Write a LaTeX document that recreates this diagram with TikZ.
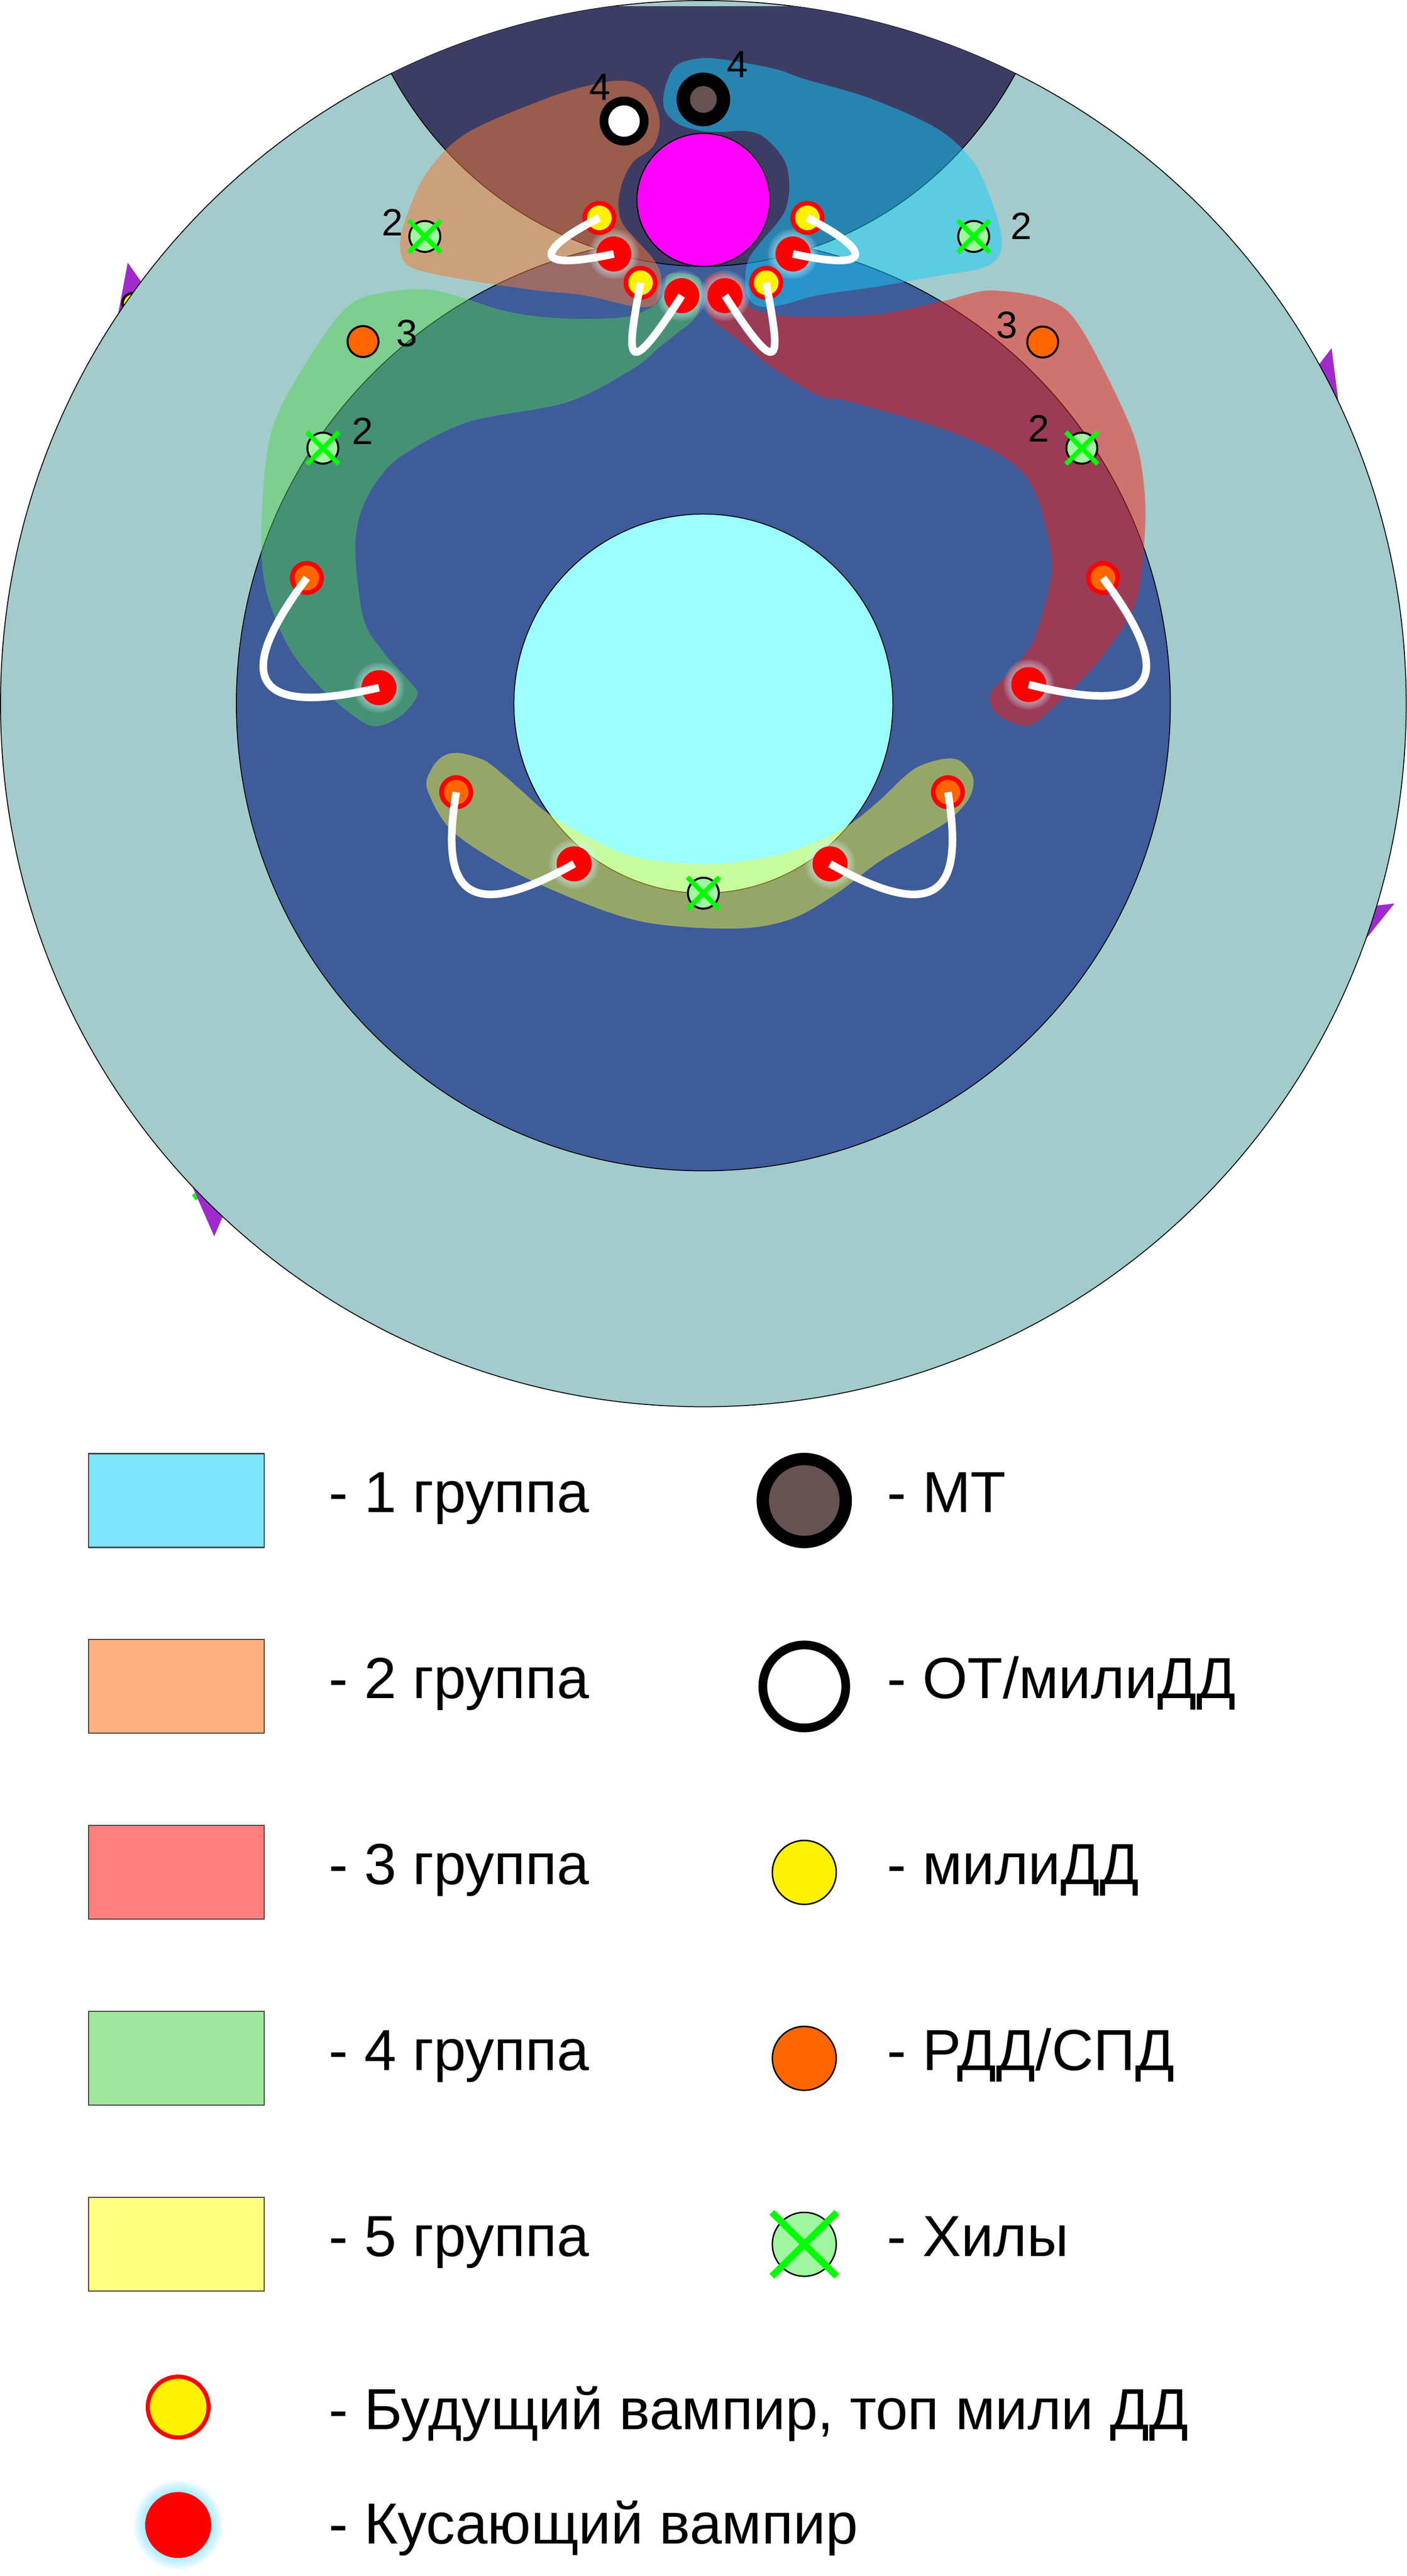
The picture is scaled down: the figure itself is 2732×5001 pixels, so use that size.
\documentclass[tikz,border=0pt]{standalone}
\usepackage{fontspec}
\setmainfont{Liberation Sans}
\definecolor{teal0}{RGB}{163,203,203}
\definecolor{blue0}{RGB}{62,92,154}
\definecolor{navy0}{RGB}{61,60,100}
\definecolor{cyan0}{RGB}{155,255,254}
\definecolor{mag0}{RGB}{255,0,255}
\definecolor{g1c}{RGB}{20,205,250}
\definecolor{g2c}{RGB}{240,122,55}
\definecolor{g3c}{RGB}{249,29,21}
\definecolor{g4c}{RGB}{80,210,75}
\definecolor{g5c}{RGB}{250,250,50}
\definecolor{leg1}{RGB}{127,229,254}
\definecolor{leg2}{RGB}{255,176,127}
\definecolor{leg3}{RGB}{255,127,127}
\definecolor{leg4}{RGB}{160,229,160}
\definecolor{leg5}{RGB}{255,255,127}
\definecolor{mtc}{RGB}{102,82,82}
\definecolor{orng}{RGB}{255,102,0}
\definecolor{healc}{RGB}{160,245,160}
\definecolor{xgreen}{RGB}{0,255,0}
\definecolor{purp}{RGB}{160,42,204}
\definecolor{glowc}{RGB}{220,245,255}
\definecolor{glowl}{RGB}{110,220,255}
\tikzset{
  dot/.style={circle, inner sep=0pt, outer sep=0pt},
  futv/.style={dot, minimum size=0.57cm, fill=yellow, draw=red, line width=2.56pt},
  futo/.style={futv, fill=orng},
  biter/.style={dot, minimum size=0.68cm, fill=red},
  healer/.style={dot, minimum size=0.60cm, fill=healc, draw=black, line width=1.1pt},
  rdd/.style={dot, minimum size=0.60cm, fill=orng, draw=black, line width=1.1pt},
  mtnode/.style={dot, minimum size=0.78cm, fill=mtc, draw=black, line width=7.4pt},
  otnode/.style={dot, minimum size=0.78cm, fill=white, draw=black, line width=4.84pt},
  xline/.style={draw=xgreen, line width=2.56pt},
  bite/.style={draw=white, line width=4.2pt},
  lbl/.style={inner sep=0pt, font=\fontsize{21pt}{24pt}\selectfont},
  legtxt/.style={inner sep=0pt, anchor=base west, font=\fontsize{32pt}{36pt}\selectfont},
  legbox/.style={draw=black!75, line width=0.6pt},
  thinline/.style={draw=black, line width=0.5pt}
}
\begin{document}
\begin{tikzpicture}[x=0.01cm, y=-0.01cm]
\useasboundingbox (0,0) rectangle (2732,5001);
% ---- marks behind the outer circle
\fill[purp] (248,510) -- (295,576) -- (220,660) -- cycle;
\filldraw[fill=yellow, draw=black, line width=1.4pt] (258,589) circle[radius=20];
\fill[purp] (2586,676) -- (2540,736) -- (2606,830) -- cycle;
\fill[purp] (2708,1754) -- (2640,1762) -- (2635,1845) -- cycle;
\fill[purp] (416,2400) -- (365,2284) -- (445,2333) -- cycle;
\fill[xgreen] (372.7,2320.7) -- (378.3,2315.7) -- (384,2327.3) -- (380,2330.7) -- cycle;
% ---- rings
\filldraw[fill=teal0, thinline] (1366,1366) circle[radius=1365];
\filldraw[fill=blue0, thinline] (1366,1366) circle[radius=907];
\begin{scope}
  \clip (1366,1366) circle[radius=1365];
  \fill[navy0] (690,12) -- (760,143) .. controls (900,400) and (1150,517) .. (1366,517)
     .. controls (1582,517) and (1832,400) .. (1972,143) -- (2042,12) -- cycle;
  \draw[thinline] (690,12) -- (760,143) .. controls (900,400) and (1150,517) .. (1366,517)
     .. controls (1582,517) and (1832,400) .. (1972,143) -- (2042,12);
\end{scope}
\filldraw[fill=cyan0, thinline] (1366,1366) circle[radius=368];
% ---- group 2 (upper left)
\fill[g2c, fill opacity=0.52] plot[smooth cycle, tension=0.55] coordinates {
 (1156,163) (1062,191) (907,258) (829,335) (786,430) (778,488) (803,521) (915,545)
 (1044,564) (1133,573) (1216,592) (1249,596) (1274,590) (1284,557) (1282,528) (1266,499)
 (1236,466) (1208,432) (1201,391) (1212,345) (1232,312) (1266,287) (1280,254) (1278,217)
 (1257,175) (1216,157)};
% ---- group 1 (upper right)
\fill[g1c, fill opacity=0.5] plot[smooth cycle, tension=0.55] coordinates {
 (1361,113) (1415,117) (1506,134) (1561,153) (1690,191) (1819,249) (1888,311) (1923,383)
 (1944,454) (1940,497) (1905,521) (1819,536) (1700,557) (1589,573) (1527,590) (1489,596)
 (1464,590) (1450,569) (1448,528) (1456,499) (1481,466) (1510,432) (1527,403) (1533,362)
 (1527,320) (1506,287) (1477,262) (1444,254) (1402,256) (1361,254) (1320,242) (1295,221)
 (1288,196) (1295,159) (1315,126)};
% ---- group 4 (left)
\fill[g4c, fill opacity=0.45] plot[smooth cycle, tension=0.55] coordinates {
 (674,596) (751,567) (846,564) (974,602) (1050,615) (1133,619) (1216,615) (1270,594)
 (1290,569) (1295,536) (1320,530) (1357,540) (1363,578) (1350,617) (1316,646) (1282,673)
 (1229,716) (1101,781) (910,819) (783,883) (732,934) (700,997) (690,1074) (706,1201)
 (744,1265) (795,1323) (811,1348) (783,1386) (738,1409) (700,1399) (623,1335) (559,1253)
 (515,1138) (508,1010) (527,838) (591,710)};
% ---- group 3 (right)
\fill[g3c, fill opacity=0.5] plot[smooth cycle, tension=0.55] coordinates {
 (2101,640) (2038,583) (1923,564) (1830,585) (1700,611) (1547,615) (1480,606) (1450,590)
 (1440,550) (1402,530) (1373,540) (1369,578) (1382,619) (1416,646) (1450,673) (1503,716)
 (1591,768) (1655,781) (1846,838) (1961,895) (2012,959) (2041,1074) (2038,1138) (2006,1246)
 (1955,1310) (1923,1348) (1936,1386) (1993,1409) (2038,1380) (2133,1284) (2203,1176)
 (2222,1055) (2222,946) (2197,832)};
% ---- group 5 (bottom)
\fill[g5c, fill opacity=0.47] plot[smooth cycle, tension=0.55] coordinates {
 (957,1487) (1013,1535) (1061,1577) (1133,1620) (1228,1663) (1364,1678) (1499,1663)
 (1595,1630) (1651,1600) (1707,1555) (1754,1510) (1786,1487) (1834,1473) (1866,1478)
 (1890,1510) (1882,1550) (1842,1593) (1786,1627) (1707,1673) (1627,1733) (1547,1780)
 (1468,1800) (1372,1802) (1268,1793) (1188,1773) (1085,1733) (989,1687) (878,1613)
 (830,1533) (838,1493) (862,1467) (893,1462) (933,1473)};
% ---- glows of the biting vampires
\foreach \p in {(1192,493),(1540,493),(1324,574),(1408,574),(736,1335),(1998,1329),(1115,1677),(1612,1677)}{
  \foreach \k in {1,...,5}{\fill[glowc, fill opacity=0.11] \p circle[radius=34+3*\k];}}
% ---- central nodes
\node[dot, minimum size=2.58cm, fill=mag0, draw=black, line width=0.6pt] (mag) at (1366,388) {};
\node[mtnode] (mt) at (1366,193) {};
\node[otnode] (ot) at (1212,235) {};
\node[futv] (yl1) at (1164,423) {};
\node[futv] (yr1) at (1568,423) {};
\node[biter] (rl1) at (1192,493) {};
\node[biter] (rr1) at (1540,493) {};
\node[futv] (yl2) at (1244,549) {};
\node[futv] (yr2) at (1488,549) {};
\node[biter] (rl2) at (1324,574) {};
\node[biter] (rr2) at (1408,574) {};
% ---- side nodes
\node[healer] (hl1) at (825,459) {};
\node[healer] (hr1) at (1891,459) {};
\node[healer] (hl2) at (627,870) {};
\node[healer] (hr2) at (2101,870) {};
\node[healer] (hb) at (1366,1734) {};
\node[rdd] (ol1) at (705,663) {};
\node[rdd] (or1) at (2025,664) {};
\node[futo] (ol2) at (596,1122) {};
\node[futo] (or2) at (2142,1122) {};
\node[futo] (bl1) at (886,1538) {};
\node[futo] (br1) at (1841,1538) {};
\node[biter] (rl3) at (736,1335) {};
\node[biter] (rr3) at (1998,1329) {};
\node[biter] (bl2) at (1115,1677) {};
\node[biter] (br2) at (1612,1677) {};
% ---- bites
\draw[bite] (yl1.center) .. controls (1050,480) and (1020,530) .. (rl1.center);
\draw[bite] (yr1.center) .. controls (1682,480) and (1712,530) .. (rr1.center);
\draw[bite] (yl2.center) .. controls (1220,680) and (1205,760) .. (rl2.center);
\draw[bite] (yr2.center) .. controls (1512,680) and (1527,760) .. (rr2.center);
\draw[bite] (ol2.center) .. controls (470,1290) and (460,1400) .. (rl3.center);
\draw[bite] (or2.center) .. controls (2268,1290) and (2278,1400) .. (rr3.center);
\draw[bite] (bl1.center) .. controls (860,1700) and (880,1810) .. (bl2.center);
\draw[bite] (br1.center) .. controls (1867,1700) and (1847,1810) .. (br2.center);
% ---- healer crosses
\foreach \h in {hl1,hr1,hl2,hr2,hb}{
  \draw[xline] (\h.center) ++(-31,-31) -- ++(62,62) (\h.center) ++(-31,31) -- ++(62,-62);}
% ---- labels
\node[lbl] (n4a) at (1165,169) {4};
\node[lbl] (n4b) at (1432,125) {4};
\node[lbl] (n2a) at (762,432) {2};
\node[lbl] (n2b) at (1983,439) {2};
\node[lbl] (n3a) at (790,647) {3};
\node[lbl] (n2c) at (704,837) {2};
\node[lbl] (n3b) at (1955,631) {3};
\node[lbl] (n2d) at (2017,832) {2};
% ---- legend: groups
\filldraw[fill=leg1, legbox] (172,2822) rectangle (513,3004);
\filldraw[fill=leg2, legbox] (172,3183) rectangle (513,3365);
\filldraw[fill=leg3, legbox] (172,3544) rectangle (513,3726);
\filldraw[fill=leg4, legbox] (172,3905) rectangle (513,4087);
\filldraw[fill=leg5, legbox] (172,4266) rectangle (513,4448);
\node[legtxt] (t1) at (638,2936.5) {- 1 группа};
\node[legtxt] (t2) at (638,3297.5) {- 2 группа};
\node[legtxt] (t3) at (638,3658.5) {- 3 группа};
\node[legtxt] (t4) at (638,4019.5) {- 4 группа};
\node[legtxt] (t5) at (638,4380.5) {- 5 группа};
% ---- legend: roles
\node[dot, minimum size=1.61cm, fill=mtc, draw=black, line width=6.8pt] (lmt) at (1562,2913) {};
\node[dot, minimum size=1.61cm, fill=white, draw=black, line width=4.8pt] (lot) at (1562,3274) {};
\node[dot, minimum size=1.24cm, fill=yellow, draw=black, line width=0.8pt] (lyl) at (1562,3635) {};
\node[dot, minimum size=1.24cm, fill=orng, draw=black, line width=0.8pt] (lor) at (1562,3996) {};
\node[dot, minimum size=1.24cm, fill=healc, draw=black, line width=0.8pt] (lhl) at (1562,4357) {};
\draw[draw=xgreen, line width=3.7pt] (lhl.center) ++(-63,-62) -- ++(126,124) (lhl.center) ++(-63,62) -- ++(126,-124);
\node[legtxt] (r1) at (1722,2936.5) {- МТ};
\node[legtxt] (r2) at (1722,3297.5) {- ОТ/милиДД};
\node[legtxt] (r3) at (1722,3658.5) {- милиДД};
\node[legtxt] (r4) at (1722,4019.5) {- РДД/СПД};
\node[legtxt] (r5) at (1722,4380.5) {- Хилы};
% ---- legend: vampires
\node[dot, minimum size=1.18cm, fill=yellow, draw=red, line width=2.3pt] (lfv) at (346,4673) {};
\foreach \k in {1,...,6}{\fill[glowl, fill opacity=0.12] (346,4902) circle[radius=62+4*\k];}
\node[dot, minimum size=1.28cm, fill=red] (lbt) at (346,4902) {};
\node[legtxt] (v1) at (638,4716) {- Будущий вампир, топ мили ДД};
\node[legtxt] (v2) at (638,4938) {- Кусающий вампир};
\end{tikzpicture}
\end{document}
